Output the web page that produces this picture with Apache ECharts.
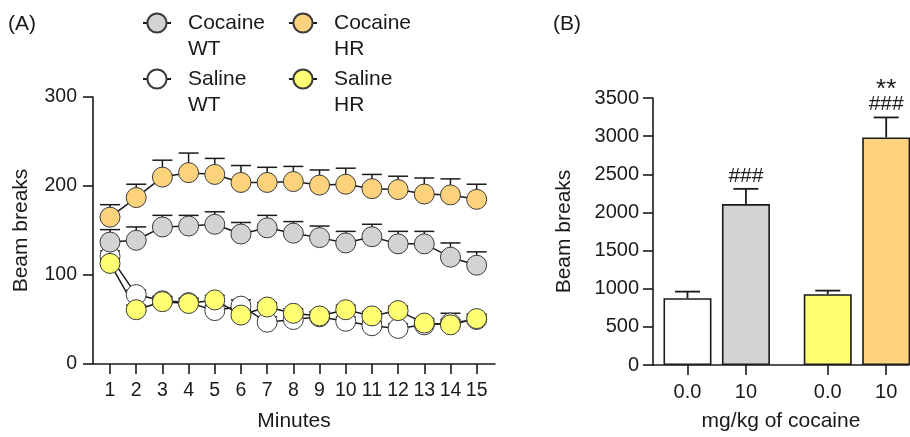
<!DOCTYPE html>
<html><head><meta charset="utf-8">
<script src="https://cdn.jsdelivr.net/npm/echarts@6/dist/echarts.min.js"></script>
<style>html,body{margin:0;padding:0;background:#fff}#c{width:910px;height:437px}</style>
</head><body><div id="c"></div><script>
// ---------- Panel A data ----------
const minutes = [1,2,3,4,5,6,7,8,9,10,11,12,13,14,15];
const cocWT    = [137,139,154,155,157,146,153,147,142,136,143,135,135,120,111];
const cocWTsem = [14,15,13,12,14,13,14,13,13,13,14,14,14,16,15];
const cocHR    = [165,187,210,215,213,204,204,205,201,202,197,196,191,190,185];
const cocHRsem = [14,15,19,22,18,19,17,17,17,18,16,15,18,18,17];
const salWT    = [121,78,71,69,60,65,47,50,53,48,43,40,44,46,50];
const salWTsem = [6,5,5,5,6,7,6,5,5,5,5,5,5,11,5];
const salHR    = [113,61,70,68,72,55,64,57,54,61,54,60,46,44,51];
const salHRsem = [6,5,5,5,5,5,5,5,5,5,5,5,5,6,5];
const yTicksA  = [0,100,200,300];
// ---------- Panel B data ----------
const barLabels = ['0.0','10','0.0','10'];
const barMeans  = [875,2109,928,2983];
const barSems   = [87,200,47,262];
const sigHash   = ['','###','','###'];
const sigStar   = ['','','','**'];
const yTicksB   = [0,500,1000,1500,2000,2500,3000,3500];
// ---------- layout / style ----------
const barPos = [1,2,3.4,4.4];
const cGrey='#d3d3d3', cOrange='#fdd27c', cYellow='#ffff73', cWhite='#ffffff';
const barColors=[cWhite,cGrey,cYellow,cOrange];
const FF='"Liberation Sans", Arial, Helvetica, sans-serif';
const INK='#1a1a1a';

function errSeries(name, xs, means, sems, xAxisIndex, yAxisIndex, cap, lw){
  return {
    type:'custom', name, xAxisIndex, yAxisIndex, z:1, silent:true,
    data: xs.map((x,i)=>[x, means[i], sems[i]]),
    renderItem:(params, api)=>{
      const x=api.value(0), y=api.value(1), s=api.value(2);
      const p0=api.coord([x,y]), p1=api.coord([x,y+s]);
      const st={stroke:INK, lineWidth:lw};
      return {type:'group', children:[
        {type:'line', shape:{x1:p0[0],y1:p0[1],x2:p1[0],y2:p1[1]}, style:st},
        {type:'line', shape:{x1:p1[0]-cap/2,y1:p1[1],x2:p1[0]+cap/2,y2:p1[1]}, style:st}
      ]};
    }
  };
}
function lineSeries(name, ys, color){
  return {
    type:'line', name, xAxisIndex:0, yAxisIndex:0, z:3,
    data: minutes.map((m,i)=>[m, ys[i]]),
    symbol:'circle', symbolSize:20,
    itemStyle:{color, borderColor:'#3a3a3a', borderWidth:1},
    lineStyle:{color:INK, width:1.5},
    emphasis:{disabled:true}
  };
}
const legTxt={fontSize:21, lineHeight:26, color:INK, fontFamily:FF, padding:[0,0,0,12]};
function legend(name,left,top){
  return {data:[name], left, top, padding:0, itemWidth:28, itemHeight:24, selectedMode:false,
          formatter:n=>'\n'+n, textStyle:legTxt};
}
const axisLineStyle={lineStyle:{color:INK, width:1.6}};
const tickStyle={length:10, lineStyle:{color:INK, width:1.6}};
const lblA={fontSize:19.5, color:INK, fontFamily:FF};
const lblB={fontSize:20, color:INK, fontFamily:FF};
const nameStyle={fontSize:21, color:INK, fontFamily:FF};

const option={
  animation:false,
  backgroundColor:'#fff',
  title:[
    {text:'(A)', left:8, top:14, padding:0, textStyle:{fontSize:21, fontWeight:'normal', color:INK, fontFamily:FF}},
    {text:'(B)', left:553, top:14, padding:0, textStyle:{fontSize:21, fontWeight:'normal', color:INK, fontFamily:FF}}
  ],
  legend:[
    legend('Cocaine\nWT',142,-16),
    legend('Cocaine\nHR',288,-16),
    legend('Saline\nWT',142,40),
    legend('Saline\nHR',288,40)
  ],
  grid:[
    {left:93, top:97, width:402, height:270},
    {left:653, top:98, width:256, height:267}
  ],
  xAxis:[
    {type:'value', gridIndex:0, min:0.35, max:15.7,
     name:'Minutes', nameLocation:'middle', nameGap:47, nameTextStyle:nameStyle,
     axisLine:axisLineStyle, splitLine:{show:false},
     axisTick:Object.assign({customValues:minutes}, tickStyle),
     axisLabel:Object.assign({customValues:minutes, margin:17}, lblA)},
    {type:'value', gridIndex:1, min:0.41, max:4.79,
     name:'mg/kg of cocaine', nameLocation:'middle', nameGap:46, nameTextStyle:nameStyle,
     axisLine:axisLineStyle, splitLine:{show:false},
     axisTick:Object.assign({customValues:barPos}, tickStyle),
     axisLabel:Object.assign({customValues:barPos, margin:17,
       formatter:v=>{const i=barPos.findIndex(p=>Math.abs(p-v)<1e-6); return i>=0?barLabels[i]:'';}}, lblB)}
  ],
  yAxis:[
    {type:'value', gridIndex:0, min:0, max:300, interval:100,
     name:'Beam breaks', nameLocation:'middle', nameGap:61, nameTextStyle:nameStyle,
     axisLine:Object.assign({show:true},axisLineStyle), splitLine:{show:false},
     axisTick:Object.assign({show:true}, tickStyle),
     axisLabel:Object.assign({margin:16, formatter:v=>String(v)}, lblA)},
    {type:'value', gridIndex:1, min:0, max:3500, interval:500,
     name:'Beam breaks', nameLocation:'middle', nameGap:78, nameTextStyle:nameStyle,
     axisLine:Object.assign({show:true},axisLineStyle), splitLine:{show:false},
     axisTick:Object.assign({show:true}, tickStyle),
     axisLabel:Object.assign({margin:14, formatter:v=>String(v)}, lblB)}
  ],
  series:[
    errSeries('errSalWT', minutes, salWT, salWTsem, 0,0, 20, 1.5),
    errSeries('errSalHR', minutes, salHR, salHRsem, 0,0, 20, 1.5),
    errSeries('errCocWT', minutes, cocWT, cocWTsem, 0,0, 20, 1.5),
    errSeries('errCocHR', minutes, cocHR, cocHRsem, 0,0, 20, 1.5),
    lineSeries('Saline\nWT', salWT, cWhite),
    lineSeries('Saline\nHR', salHR, cYellow),
    lineSeries('Cocaine\nWT', cocWT, cGrey),
    lineSeries('Cocaine\nHR', cocHR, cOrange),
    errSeries('errBars', barPos, barMeans, barSems, 1,1, 25, 1.8),
    {type:'bar', name:'bars', xAxisIndex:1, yAxisIndex:1, z:3, barWidth:48,
     data: barPos.map((x,i)=>({value:[x, barMeans[i]], itemStyle:{color:barColors[i], borderColor:INK, borderWidth:1.6}})),
     emphasis:{disabled:true}},
    {type:'custom', name:'sig', xAxisIndex:1, yAxisIndex:1, z:4, silent:true,
     data: barPos.map((x,i)=>[x, barMeans[i]+barSems[i], i]),
     renderItem:(params, api)=>{
       const i=api.value(2);
       const p=api.coord([api.value(0), api.value(1)]);
       const ch=[];
       if(sigHash[i]) ch.push({type:'text', x:p[0], y:p[1]-13, style:{text:sigHash[i], textAlign:'center', textVerticalAlign:'middle', fontSize:21, fontFamily:FF, fill:INK}});
       if(sigStar[i]) ch.push({type:'text', x:p[0], y:p[1]-28, style:{text:sigStar[i], textAlign:'center', textVerticalAlign:'middle', fontSize:26, fontFamily:FF, fill:INK}});
       return {type:'group', children:ch};
     }}
  ]
};
const chart=echarts.init(document.getElementById('c'), null, {renderer:'canvas'});
chart.setOption(option);
</script></body></html>
